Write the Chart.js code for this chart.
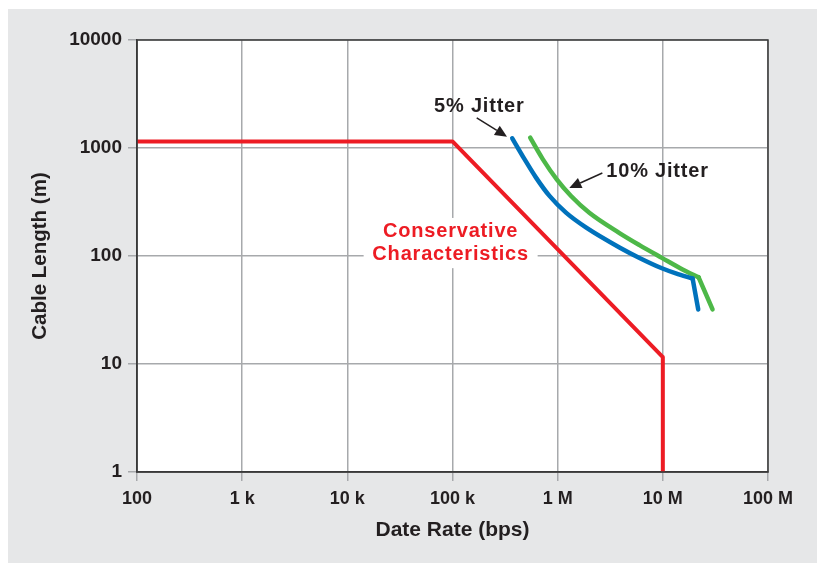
<!DOCTYPE html>
<html>
<head>
<meta charset="utf-8">
<script src="https://cdn.jsdelivr.net/npm/chart.js@4"></script>
<style>
  body { margin: 0; background: #fff; }
  #wrap { width: 819px; height: 563px; }
</style>
</head>
<body>
<div id="wrap"><canvas id="cableChart" width="819" height="563"></canvas></div>
<script>
// ticks
const xTicks = [1e2, 1e3, 1e4, 1e5, 1e6, 1e7, 1e8];
const xTickLabels = ['100', '1 k', '10 k', '100 k', '1 M', '10 M', '100 M'];
const yTicks = [1, 10, 100, 1000, 10000];
const yTickLabels = ['1', '10', '100', '1000', '10000'];

// conservative characteristics (red)
const consRate = [100, 1e5, 1e7, 1e7];
const consLength = [1150, 1150, 11.6, 1];

// 5% jitter (blue)
const jit5Rate = [3.7e5, 4.84e5, 6.25e5, 8.36e5, 1.2e6, 1.87e6, 3.87e6, 6.0e6, 9.8e6, 1.33e7, 1.92e7, 2.17e7];
const jit5Length = [1230, 788, 529, 360, 252, 183, 120, 96, 77, 69, 61.8, 32];

// 10% jitter (green)
const jit10Rate = [5.48e5, 7.21e5, 9.8e5, 1.34e6, 2.0e6, 3.87e6, 6.0e6, 9.8e6, 1.54e7, 2.19e7, 2.97e7];
const jit10Length = [1245, 789, 512, 359, 251, 163, 126, 96, 75, 63.4, 32];

const toPoints = (xs, ys) => xs.map((x, i) => ({ x: x, y: ys[i] }));
// partie courbe / dernier segment droit
const curvePart = (xs, ys) => toPoints(xs, ys).slice(0, xs.length - 1);
const tailPart = (xs, ys) => toPoints(xs, ys).slice(xs.length - 2);

const gridGray = '#a7a9ac';
const frameDark = '#3a3a3a';
const textDark = '#231f20';
const fontFamily = '"Liberation Sans", Arial, sans-serif';

// fond gris + zone blanche + cadre
const backgroundPlugin = {
  id: 'background',
  beforeDraw(chart) {
    const { ctx, chartArea: a } = chart;
    ctx.save();
    ctx.fillStyle = '#ffffff';
    ctx.fillRect(0, 0, chart.width, chart.height);
    ctx.fillStyle = '#e6e7e8';
    ctx.fillRect(8, 9, 809, 554);
    ctx.fillStyle = '#ffffff';
    ctx.fillRect(a.left, a.top, a.right - a.left, a.bottom - a.top);
    ctx.restore();
  },
  afterDatasetsDraw(chart) {
    const { ctx, chartArea: a } = chart;
    ctx.save();
    ctx.strokeStyle = frameDark;
    ctx.lineWidth = 1.5;
    ctx.strokeRect(a.left, a.top, a.right - a.left, a.bottom - a.top);
    ctx.restore();
  }
};

function arrow(ctx, x1, y1, x2, y2) {
  const ang = Math.atan2(y2 - y1, x2 - x1);
  const len = 12, half = 5.5;
  const bx = x2 - Math.cos(ang) * len, by = y2 - Math.sin(ang) * len;
  ctx.beginPath();
  ctx.moveTo(x1, y1);
  ctx.lineTo(bx, by);
  ctx.stroke();
  ctx.beginPath();
  ctx.moveTo(x2, y2);
  ctx.lineTo(bx + Math.sin(ang) * half, by - Math.cos(ang) * half);
  ctx.lineTo(bx - Math.sin(ang) * half, by + Math.cos(ang) * half);
  ctx.closePath();
  ctx.fill();
}

// textes et flèches
const labelsPlugin = {
  id: 'labels',
  beforeDatasetsDraw(chart) {
    const { ctx, scales: { x, y } } = chart;
    const cx = x.getPixelForValue(9.6e4);
    const y1 = y.getPixelForValue(167), y2 = y.getPixelForValue(104);
    ctx.save();
    ctx.fillStyle = '#ffffff';
    ctx.fillRect(cx - 87, y1 - 14, 174, (y2 - y1) + 28);
    ctx.fillStyle = '#ed1c24';
    ctx.font = 'bold 20px ' + fontFamily;
    ctx.letterSpacing = '0.8px';
    ctx.textAlign = 'center';
    ctx.textBaseline = 'middle';
    ctx.fillText('Conservative', cx, y1);
    ctx.fillText('Characteristics', cx, y2);
    ctx.restore();
  },
  afterDatasetsDraw(chart) {
    const { ctx, scales: { x, y } } = chart;
    const px = v => x.getPixelForValue(v), py = v => y.getPixelForValue(v);
    ctx.save();
    ctx.fillStyle = textDark;
    ctx.strokeStyle = textDark;
    ctx.lineWidth = 1.5;
    ctx.font = 'bold 20px ' + fontFamily;
    ctx.letterSpacing = '0.8px';
    ctx.textBaseline = 'middle';
    ctx.textAlign = 'center';
    ctx.fillText('5% Jitter', px(1.8e5), py(2400));
    arrow(ctx, px(1.7e5), py(1900), px(3.3e5), py(1270));
    ctx.textAlign = 'left';
    ctx.fillText('10% Jitter', px(2.9e6), py(612));
    arrow(ctx, px(2.66e6), py(587), px(1.29e6), py(426));
    ctx.restore();
  }
};

const lineBase = { borderWidth: 4.5, borderCapStyle: 'round', borderJoinStyle: 'round' };

const ctx = document.getElementById('cableChart').getContext('2d');
new Chart(ctx, {
  type: 'line',
  data: {
    datasets: [{
      label: 'Conservative Characteristics',
      data: toPoints(consRate, consLength),
      borderColor: '#ed1c24',
      borderWidth: 4,
      borderJoinStyle: 'round',
      tension: 0
    }, {
      ...lineBase,
      label: '5% Jitter',
      data: curvePart(jit5Rate, jit5Length),
      borderColor: '#0072bc',
      cubicInterpolationMode: 'monotone'
    }, {
      ...lineBase,
      label: '5% Jitter tail',
      data: tailPart(jit5Rate, jit5Length),
      borderColor: '#0072bc',
      tension: 0
    }, {
      ...lineBase,
      label: '10% Jitter',
      data: curvePart(jit10Rate, jit10Length),
      borderColor: '#4db848',
      cubicInterpolationMode: 'monotone'
    }, {
      ...lineBase,
      label: '10% Jitter tail',
      data: tailPart(jit10Rate, jit10Length),
      borderColor: '#4db848',
      tension: 0
    }]
  },
  options: {
    responsive: false,
    animation: false,
    elements: { point: { radius: 0 } },
    layout: { padding: { left: 0, top: 40, right: 51, bottom: 0 } },
    plugins: {
      legend: { display: false },
      tooltip: { enabled: false }
    },
    scales: {
      x: {
        type: 'logarithmic',
        min: 1e2,
        max: 1e8,
        afterBuildTicks: s => { s.ticks = xTicks.map(v => ({ value: v })); },
        afterFit: s => { s.height = 91; },
        grid: { color: gridGray, lineWidth: 1.5, tickLength: 9 },
        border: { color: frameDark, width: 1.5 },
        ticks: {
          autoSkip: false,
          maxRotation: 0,
          padding: 7,
          color: textDark,
          font: { family: fontFamily, size: 18, weight: 'bold' },
          callback: (v, i) => xTickLabels[i]
        },
        title: {
          display: true,
          text: 'Date Rate (bps)',
          color: textDark,
          font: { family: fontFamily, size: 21, weight: 'bold' },
          padding: { top: 0, bottom: 20 }
        }
      },
      y: {
        type: 'logarithmic',
        min: 1,
        max: 10000,
        afterBuildTicks: s => { s.ticks = yTicks.map(v => ({ value: v })); },
        afterFit: s => { s.width = 137; },
        grid: { color: gridGray, lineWidth: 1.5, tickLength: 9 },
        border: { color: frameDark, width: 1.5 },
        ticks: {
          autoSkip: false,
          padding: 6,
          color: textDark,
          font: { family: fontFamily, size: 19, weight: 'bold' },
          callback: (v, i) => yTickLabels[i]
        },
        title: {
          display: true,
          text: 'Cable Length (m)',
          color: textDark,
          font: { family: fontFamily, size: 20.5, weight: 'bold' },
          padding: { top: 28, bottom: 0 }
        }
      }
    }
  },
  plugins: [backgroundPlugin, labelsPlugin]
});
</script>
</body>
</html>
